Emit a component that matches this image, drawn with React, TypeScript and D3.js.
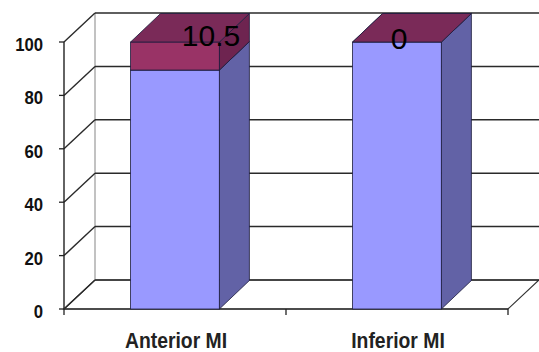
import React from "react";
import * as d3 from "d3";

const categories = ["Anterior MI", "Inferior MI"];
const lowerValues = [89.5, 100];
const upperValues = [10.5, 0];
const yTicks = [0, 20, 40, 60, 80, 100];
const seriesKeys = ["lower", "upper"];

const W = 539;
const H = 352;

export default function App() {
  const x0 = 64, x1 = 508, yBase = 309, yTop = 42;
  const wallDx = 31, wallDy = -29;
  const barDx = 30, barDy = -28.5;

  const y = d3.scaleLinear().domain([0, 100]).range([yBase, yTop]);
  const x = d3
    .scaleBand<string>()
    .domain(categories)
    .range([x0, x1])
    .paddingInner(0.6)
    .paddingOuter(0.3);

  const rows = categories.map((c, i) => ({ cat: c, lower: lowerValues[i], upper: upperValues[i] }));
  const stacked = d3.stack<any>().keys(seriesKeys)(rows);

  const colors: Record<string, { front: string; side: string; top: string }> = {
    lower: { front: "#9999FF", side: "#6262A6", top: "#7F7FD6" },
    upper: { front: "#993366", side: "#6E2450", top: "#7A2A58" },
  };

  const pts = (p: [number, number][]) => p.map((q) => q.join(",")).join(" ");
  const bw = x.bandwidth();
  const labelDx = [36, 2];
  const squeeze = 0.88;

  const faces: JSX.Element[] = [];
  categories.forEach((c, ci) => {
    const bx = x(c)!;
    stacked.forEach((s) => {
      const d = s[ci];
      const yb = y(d[0]);
      const yt = y(d[1]);
      const col = colors[s.key];
      const stroke = "#1c1c3c";
      faces.push(
        <g key={c + s.key}>
          {yb - yt > 0 && (
            <rect x={bx} y={yt} width={bw} height={yb - yt} fill={col.front} stroke={stroke} strokeWidth={0.8} />
          )}
          {yb - yt > 0 && (
            <polygon
              points={pts([
                [bx + bw, yt],
                [bx + bw + barDx, yt + barDy],
                [bx + bw + barDx, yb + barDy],
                [bx + bw, yb],
              ])}
              fill={col.side}
              stroke={stroke}
              strokeWidth={0.8}
            />
          )}
          <polygon
            points={pts([
              [bx, yt],
              [bx + barDx, yt + barDy],
              [bx + bw + barDx, yt + barDy],
              [bx + bw, yt],
            ])}
            fill={col.top}
            stroke={stroke}
            strokeWidth={0.8}
          />
        </g>
      );
    });
  });

  const font = "'Liberation Sans', Arial, sans-serif";

  return (
    <svg width={W} height={H} style={{ position: "absolute", left: 0, top: 0, background: "#fff" }}>
      {/* back wall */}
      <rect x={x0 + wallDx} y={yTop + wallDy} width={x1 - x0} height={yBase - yTop} fill="#fff" />
      {/* floor */}
      <polygon
        points={pts([
          [x0, yBase],
          [x1, yBase],
          [x1 + wallDx, yBase + wallDy],
          [x0 + wallDx, yBase + wallDy],
        ])}
        fill="#fff"
        stroke="#333"
        strokeWidth={1.2}
      />
      {/* left wall back edge */}
      <line x1={x0 + wallDx} x2={x0 + wallDx} y1={yTop + wallDy} y2={yBase + wallDy} stroke="#999" strokeWidth={1.2} />
      {/* gridlines */}
      {yTicks.map((t) => (
        <g key={"g" + t}>
          <line x1={x0 + wallDx} x2={x1 + wallDx} y1={y(t) + wallDy} y2={y(t) + wallDy} stroke="#2a2a2a" strokeWidth={1.5} />
          <line x1={x0} x2={x0 + wallDx} y1={y(t)} y2={y(t) + wallDy} stroke="#2a2a2a" strokeWidth={1.4} />
        </g>
      ))}
      {/* front axis */}
      <line x1={x0} x2={x0} y1={yTop} y2={yBase} stroke="#222" strokeWidth={1.4} />
      <line x1={x0} x2={x1} y1={yBase} y2={yBase} stroke="#333" strokeWidth={1.4} />
      {yTicks.map((t) => (
        <g key={"t" + t}>
          <line x1={x0 - 5} x2={x0} y1={y(t)} y2={y(t)} stroke="#222" strokeWidth={1.3} />
          <text
            transform={`translate(${x0 - 21},${y(t) + 9}) scale(${squeeze},1)`}
            textAnchor="end"
            fontFamily={font}
            fontWeight="bold"
            fontSize={19}
            fill="#111"
          >
            {t}
          </text>
        </g>
      ))}
      {[x0, x0 + x.step(), x1].map((bx, i) => (
        <line key={"bt" + i} x1={bx} x2={bx} y1={yBase} y2={yBase + 6} stroke="#222" strokeWidth={1.3} />
      ))}
      {faces}
      {categories.map((c) => (
        <text
          key={"c" + c}
          transform={`translate(${x(c)! + bw / 2 + 1},348) scale(${squeeze},1)`}
          textAnchor="middle"
          fontFamily={font}
          fontWeight="bold"
          fontSize={22}
          fill="#222"
        >
          {c}
        </text>
      ))}
      {categories.map((c, i) => (
        <text
          key={"l" + c}
          x={x(c)! + bw / 2 + labelDx[i]}
          y={y(lowerValues[i] + upperValues[i]) + (i === 0 ? 4 : 7)}
          textAnchor="middle"
          fontFamily={font}
          fontSize={30}
          fill="#000"
        >
          {String(upperValues[i])}
        </text>
      ))}
    </svg>
  );
}
